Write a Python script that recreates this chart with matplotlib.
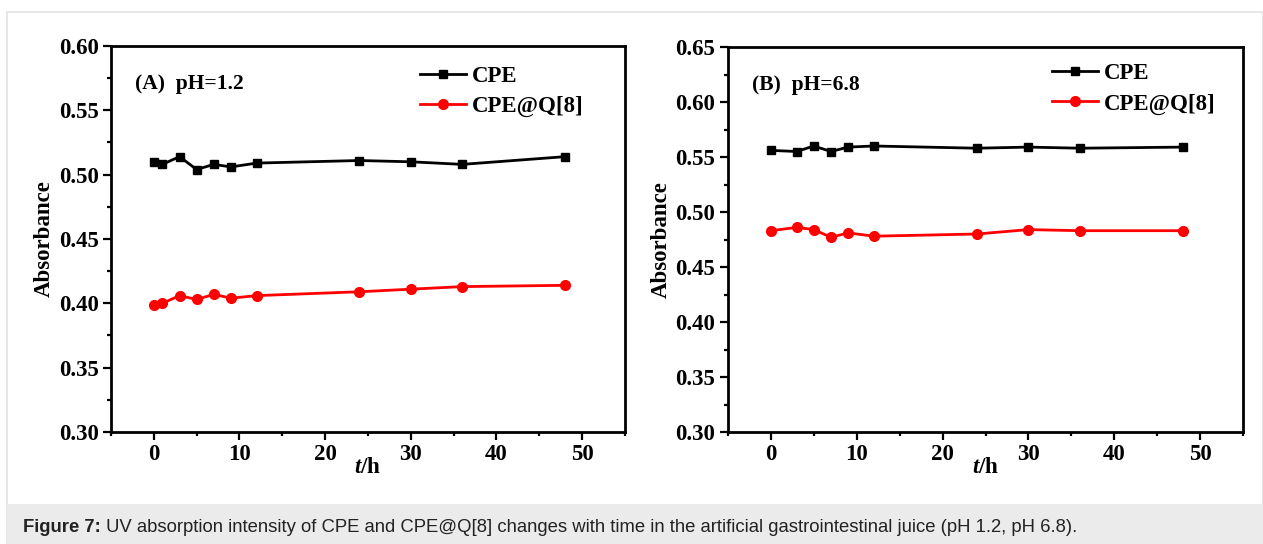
import matplotlib
matplotlib.use("Agg")
import matplotlib.pyplot as plt
from matplotlib.patches import Rectangle
from matplotlib.ticker import MultipleLocator

# pH 1.2
t_a = [0, 1, 3, 5, 7, 9, 12, 24, 30, 36, 48]
cpe_a = [0.510, 0.508, 0.514, 0.504, 0.508, 0.506, 0.509, 0.511, 0.510, 0.508, 0.514]
q8_a = [0.399, 0.400, 0.406, 0.403, 0.407, 0.404, 0.406, 0.409, 0.411, 0.413, 0.414]

# pH 6.8
t_b = [0, 3, 5, 7, 9, 12, 24, 30, 36, 48]
cpe_b = [0.556, 0.555, 0.560, 0.555, 0.559, 0.560, 0.558, 0.559, 0.558, 0.559]
q8_b = [0.483, 0.486, 0.484, 0.477, 0.481, 0.478, 0.480, 0.484, 0.483, 0.483]

caption_bold = "Figure 7:"
caption_rest = (" UV absorption intensity of CPE and CPE@Q[8] changes with time in the "
                "artificial gastrointestinal juice (pH 1.2, pH 6.8).")

plt.rcParams["font.family"] = "Liberation Serif"
plt.rcParams["font.weight"] = "bold"
plt.rcParams["axes.labelweight"] = "bold"
plt.rcParams["mathtext.fontset"] = "custom"
plt.rcParams["mathtext.it"] = "Liberation Serif:italic:bold"
plt.rcParams["mathtext.rm"] = "Liberation Serif:bold"

W, H = 1263, 544
fig = plt.figure(figsize=(W / 100, H / 100), dpi=100)

# page frame and caption band
fig.patches.append(Rectangle((7 / W, 0), 1 - 7 / W, 1 - 12 / H, transform=fig.transFigure,
                             facecolor="none", edgecolor="#e3e3e3", lw=1.2))
fig.patches.append(Rectangle((7 / W, 0), 1 - 7 / W, 40 / H, transform=fig.transFigure,
                             facecolor="#ebebeb", edgecolor="none"))


def panel(rect, t, cpe, q8, ylim, tag, leg_anchor):
    ax = fig.add_axes(rect)
    ax.plot(t, cpe, color="black", lw=2.0, marker="s", ms=6, label="CPE")
    ax.plot(t, q8, color="red", lw=2.0, marker="o", ms=7, label="CPE@Q[8]")
    ax.set_xlim(-5, 55)
    ax.set_ylim(*ylim)
    ax.xaxis.set_major_locator(MultipleLocator(10))
    ax.xaxis.set_minor_locator(MultipleLocator(5))
    ax.yaxis.set_major_locator(MultipleLocator(0.05))
    ax.yaxis.set_minor_locator(MultipleLocator(0.025))
    ax.yaxis.set_major_formatter(matplotlib.ticker.FormatStrFormatter("%.2f"))
    ax.tick_params(which="major", direction="out", length=6, width=1.6, labelsize=16.5, pad=3)
    ax.tick_params(which="minor", direction="out", length=3, width=1.6)
    for s in ax.spines.values():
        s.set_linewidth(2.0)
    ax.set_xlabel(r"$\mathit{t}$/h", fontsize=16.5, labelpad=-6)
    ax.set_ylabel("Absorbance", fontsize=16.5, labelpad=3)
    ax.text(0.047, 0.902, tag, transform=ax.transAxes, fontsize=15.5, va="center")
    ax.legend(loc="upper left", bbox_to_anchor=leg_anchor, frameon=False, fontsize=16.5,
              borderpad=0, handlelength=2.0, handletextpad=0.25, labelspacing=0.4,
              borderaxespad=0)
    return ax


panel([111 / W, 112 / H, 514 / W, 386 / H], t_a, cpe_a, q8_a, (0.30, 0.60),
      "(A)  pH=1.2", (0.601, 0.948))
panel([728 / W, 112 / H, 515 / W, 385 / H], t_b, cpe_b, q8_b, (0.30, 0.65),
      "(B)  pH=6.8", (0.629, 0.958))

tb = fig.text(23 / W, 17 / H, caption_bold, fontsize=13.3, family="Liberation Sans",
              weight="bold", va="center", color="#222222")
fig.canvas.draw()
bb = tb.get_window_extent()
fig.text(bb.x1 / W, 17 / H, caption_rest, fontsize=13.3, family="Liberation Sans",
         weight="normal", va="center", color="#222222")

fig.savefig("out.png", dpi=100)
